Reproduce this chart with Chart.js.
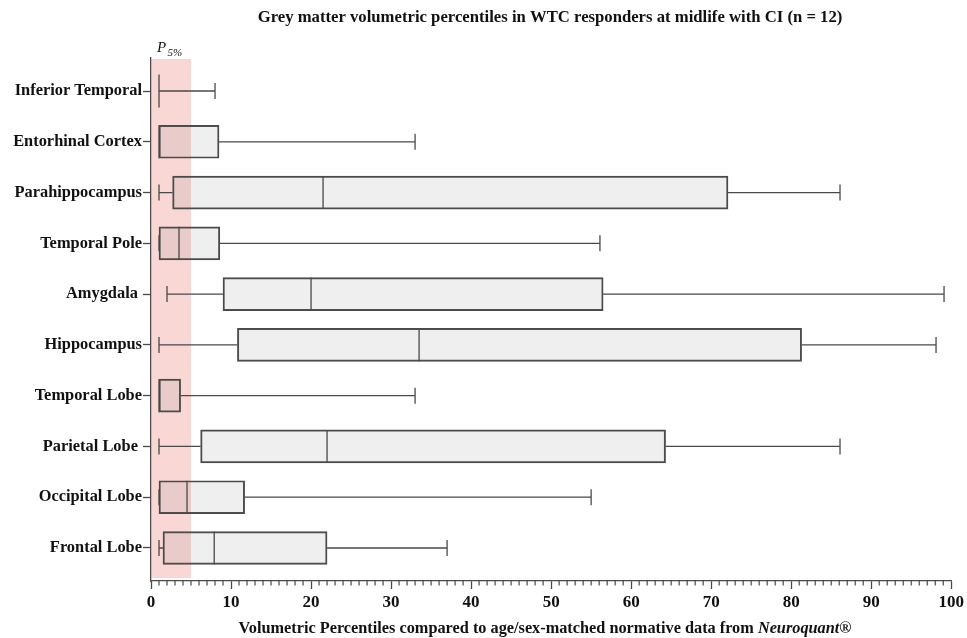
<!DOCTYPE html>
<html>
<head>
<meta charset="utf-8">
<script src="https://cdn.jsdelivr.net/npm/chart.js@4.4.1/dist/chart.umd.min.js"></script>
<style>
  body { margin: 0; background: #fff; }
  canvas { display: block; }
</style>
</head>
<body>
<canvas id="myChart" width="967" height="638"></canvas>
<script>
const labels = ['Inferior Temporal', 'Entorhinal Cortex', 'Parahippocampus', 'Temporal Pole', 'Amygdala ',
    'Hippocampus', 'Temporal Lobe', 'Parietal Lobe ', 'Occipital Lobe', 'Frontal Lobe'];
const mins    = [1, 1, 1, 1, 2, 1, 1, 1, 1, 1];
const q1s     = [1, 1, 2.7, 1, 9, 10.8, 1, 6.2, 1, 1.5];
const medians = [1, 1, 21.5, 3.5, 20, 33.5, 1, 22, 4.5, 7.9];
const q3s     = [1, 8.5, 72.1, 8.6, 56.5, 81.3, 3.7, 64.3, 11.7, 22];
const maxs    = [8, 33, 86.1, 56.1, 99.1, 98.1, 33, 86.1, 55, 37];
const p5 = 5;

const serif = '"Liberation Serif", "Times New Roman", serif';
const lineColor = '#4a4a4a';

const boxPlugin = {
    id: 'boxPlugin',
    beforeDatasetsDraw(chart) {
        const {ctx, chartArea, scales: {x}} = chart;
        ctx.save();
        ctx.fillStyle = 'rgba(232,122,112,0.3)';
        ctx.fillRect(x.getPixelForValue(0), chartArea.top + 1, x.getPixelForValue(p5) - x.getPixelForValue(0), chartArea.bottom - chartArea.top - 4);
        ctx.restore();
    },
    afterDatasetsDraw(chart) {
        const {ctx, scales: {x, y}} = chart;
        const half = 16.5, cap = 8;
        ctx.save();
        ctx.strokeStyle = lineColor;
        ctx.lineWidth = 1.3;
        labels.forEach((_, i) => {
            const yc = y.getPixelForValue(i);
            const xMin = x.getPixelForValue(mins[i]);
            const xQ1 = x.getPixelForValue(q1s[i]);
            const xMed = x.getPixelForValue(medians[i]);
            const xQ3 = x.getPixelForValue(q3s[i]);
            const xMax = x.getPixelForValue(maxs[i]);
            ctx.beginPath();
            ctx.moveTo(xMin, yc); ctx.lineTo(xQ1, yc);
            ctx.moveTo(xQ3, yc); ctx.lineTo(xMax, yc);
            ctx.moveTo(xMin, yc - cap); ctx.lineTo(xMin, yc + cap);
            ctx.moveTo(xMax, yc - cap); ctx.lineTo(xMax, yc + cap);
            ctx.moveTo(xMed, yc - half); ctx.lineTo(xMed, yc + half);
            ctx.stroke();
        });
        ctx.restore();
    },
    afterDraw(chart) {
        const {ctx, chartArea, scales: {x}} = chart;
        ctx.save();
        // minor ticks
        ctx.strokeStyle = lineColor;
        ctx.lineWidth = 1.2;
        ctx.beginPath();
        for (let v = 0; v <= 100; v++) {
            if (v % 10 === 0) continue;
            const px = x.getPixelForValue(v);
            ctx.moveTo(px, chartArea.bottom);
            ctx.lineTo(px, chartArea.bottom + 4.5);
        }
        ctx.stroke();

        ctx.fillStyle = '#111';
        ctx.textBaseline = 'alphabetic';
        // title
        ctx.font = 'bold 16.7px ' + serif;
        ctx.textAlign = 'center';
        ctx.fillText('Grey matter volumetric percentiles in WTC responders at midlife with CI (n = 12)', 550, 22);

        // x title with italic part
        const parts = [
            ['bold 16.3px ' + serif, 'Volumetric Percentiles compared to age/sex-matched normative data from '],
            ['italic bold 16.3px ' + serif, 'Neuroquant'],
            ['bold 16.3px ' + serif, '®']
        ];
        let total = 0;
        parts.forEach(p => { ctx.font = p[0]; total += ctx.measureText(p[1]).width; });
        let cx = 545 - total / 2;
        ctx.textAlign = 'left';
        parts.forEach(p => {
            ctx.font = p[0];
            ctx.fillText(p[1], cx, 633);
            cx += ctx.measureText(p[1]).width;
        });

        // P5% label
        ctx.font = 'italic 15px ' + serif;
        ctx.fillText('P', 157, 52);
        ctx.font = 'italic 11px ' + serif;
        ctx.fillText('5%', 167.5, 56);
        ctx.restore();
    }
};

const ctx = document.getElementById('myChart').getContext('2d');
const myChart = new Chart(ctx, {
    type: 'bar',
    data: {
        datasets: [{
            data: labels.map((_, i) => ({x: [q1s[i], q3s[i]], y: i})),
            backgroundColor: 'rgba(127,128,127,0.125)',
            borderColor: lineColor,
            borderWidth: 1.3,
            borderSkipped: false,
            barThickness: 33
        }]
    },
    options: {
        indexAxis: 'y',
        responsive: false,
        animation: false,
        layout: { padding: { top: 58, right: 14, bottom: 0, left: 0 } },
        plugins: { legend: { display: false }, tooltip: { enabled: false } },
        scales: {
            x: {
                type: 'linear',
                min: 0,
                max: 100,
                ticks: { stepSize: 10, color: '#111', padding: 3, font: { family: serif, size: 17, weight: 'bold' } },
                grid: { drawOnChartArea: false, drawTicks: true, tickLength: 8, tickColor: lineColor, tickWidth: 1.3 },
                border: { display: true, color: lineColor, width: 1.3 },
                afterFit(scale) { scale.height = 57; }
            },
            y: {
                type: 'linear',
                reverse: true,
                offset: false,
                min: -0.65,
                max: 9.65,
                afterBuildTicks(scale) { scale.ticks = labels.map((_, i) => ({value: i})); },
                ticks: {
                    autoSkip: false,
                    color: '#111',
                    padding: 1,
                    font: { family: serif, size: 16.4, weight: 'bold' },
                    callback: (v) => labels[v]
                },
                grid: { offset: false, drawOnChartArea: false, drawTicks: true, tickLength: 8, tickColor: lineColor, tickWidth: 1.3 },
                border: { display: true, color: lineColor, width: 1.3 },
                afterFit(scale) { scale.width = 151; }
            }
        }
    },
    plugins: [boxPlugin]
});
</script>
</body>
</html>
